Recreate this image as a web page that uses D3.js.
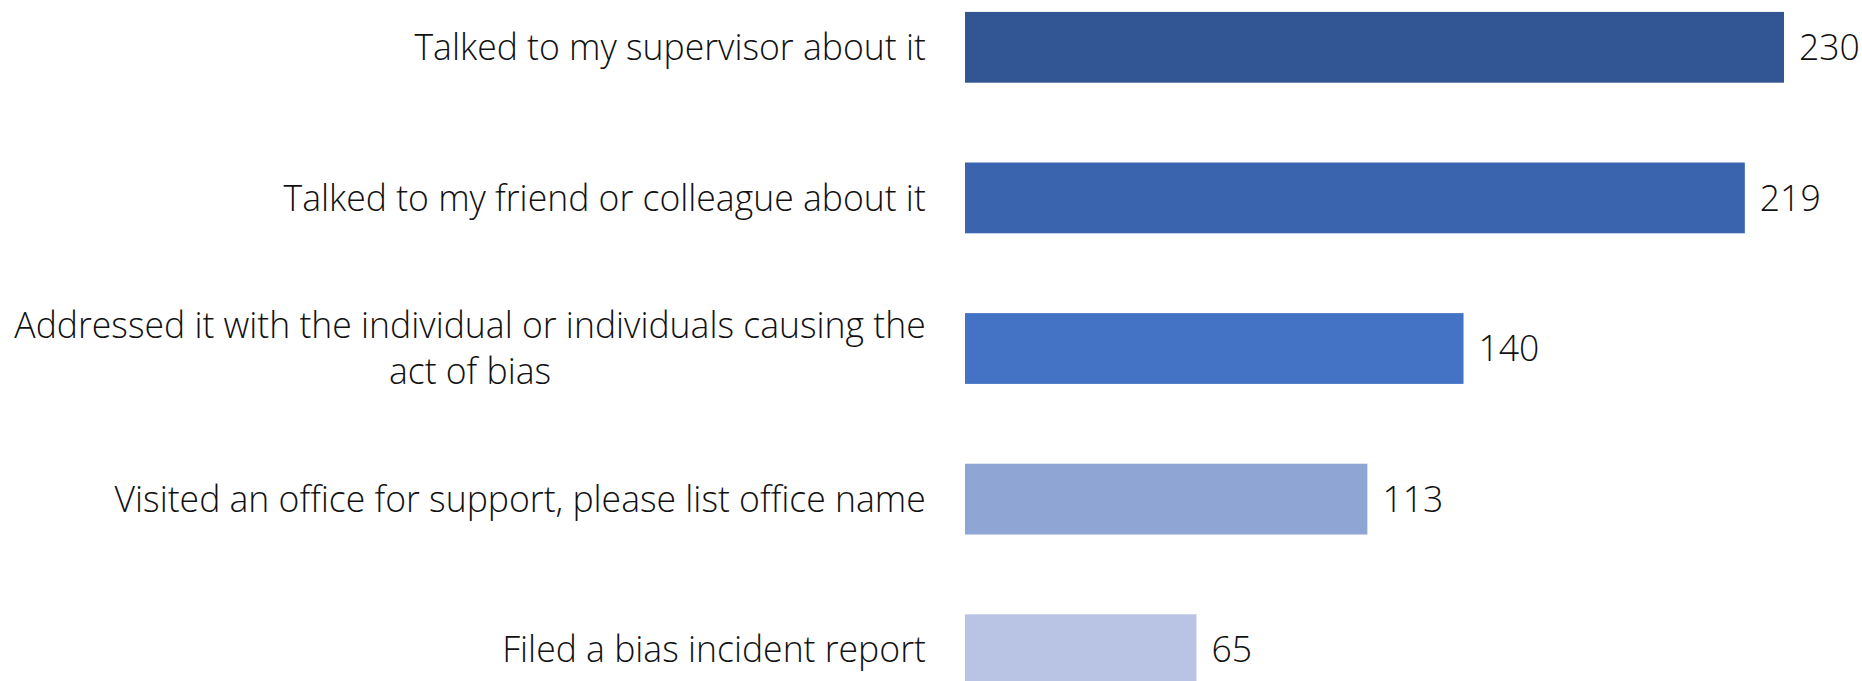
<!DOCTYPE html>
<html lang="en">
  <head>
    <meta charset="UTF-8" />
    <title>Responses to bias</title>
    <style>
      body { margin: 0; background: #fff; }
      text { font-family: "Open Sans", sans-serif; font-weight: 300; fill: #111; }
    </style>
  </head>
  <body>
    <svg id="svg" width="1862" height="681"></svg>

    <script src="https://d3js.org/d3.v7.min.js"></script>
    <script>
      const categories = [
        ["Talked to my supervisor about it"],
        ["Talked to my friend or colleague about it"],
        ["Addressed it with the individual or individuals causing the", "act of bias"],
        ["Visited an office for support, please list office name"],
        ["Filed a bias incident report"],
      ];
      const values = [230, 219, 140, 113, 65];
      const colors = ["#325694", "#3a64ad", "#4472c4", "#8fa5d4", "#b9c3e3"];

      const svg = d3.select("#svg");
      const left = 965;

      const x = d3.scaleLinear().domain([0, 230]).range([left, 1784]);

      const y = d3
        .scaleBand()
        .domain(d3.range(values.length))
        .range([-28, 725]) // last bar runs past the bottom edge like the original
        .paddingInner(0.53)
        .paddingOuter(0.265);

      const rows = svg
        .selectAll("g.row")
        .data(values)
        .join("g")
        .attr("class", "row");

      rows
        .append("rect")
        .attr("x", x(0))
        .attr("y", (d, i) => y(i))
        .attr("width", (d) => x(d) - x(0))
        .attr("height", y.bandwidth())
        .attr("fill", (d, i) => colors[i]);

      const fontSize = 36;
      const labelX = 926;

      const labels = rows
        .append("text")
        .attr("class", "label")
        .attr("text-anchor", "middle")
        .style("font-size", fontSize + "px");

      labels
        .selectAll("tspan")
        .data((d, i) => categories[i].map((t, j, a) => ({ t, dy: (j - (a.length - 1) / 2) * 46 })))
        .join("tspan")
        .attr("x", 0)
        .attr("y", (d) => d.dy)
        .attr("dy", "0.35em")
        .text((d) => d.t);

      // block is right aligned, wrapped lines centred inside it
      let widest = 0;
      const blockW = [];
      labels.each(function (d, i) {
        let w = 0;
        d3.select(this).selectAll("tspan").each(function () {
          w = Math.max(w, this.getComputedTextLength());
        });
        blockW[i] = w;
        widest = Math.max(widest, w);
      });
      labels.selectAll("tspan").attr("x", function () {
        const i = values.indexOf(d3.select(this.parentNode).datum());
        return -blockW[i] / 2;
      });

      // squeeze the substitute font to the width of the original narrow face
      const k = 912 / widest;
      labels.attr("transform", (d, i) => `translate(${labelX},${y(i) + y.bandwidth() / 2}) scale(${k},1)`);

      rows
        .append("text")
        .attr("class", "value")
        .style("font-size", fontSize + "px")
        .attr("dy", "0.35em")
        .attr("transform", (d, i) => `translate(${x(d) + 15},${y(i) + y.bandwidth() / 2}) scale(${k},1)`)
        .text((d) => d);
    </script>
  </body>
</html>
